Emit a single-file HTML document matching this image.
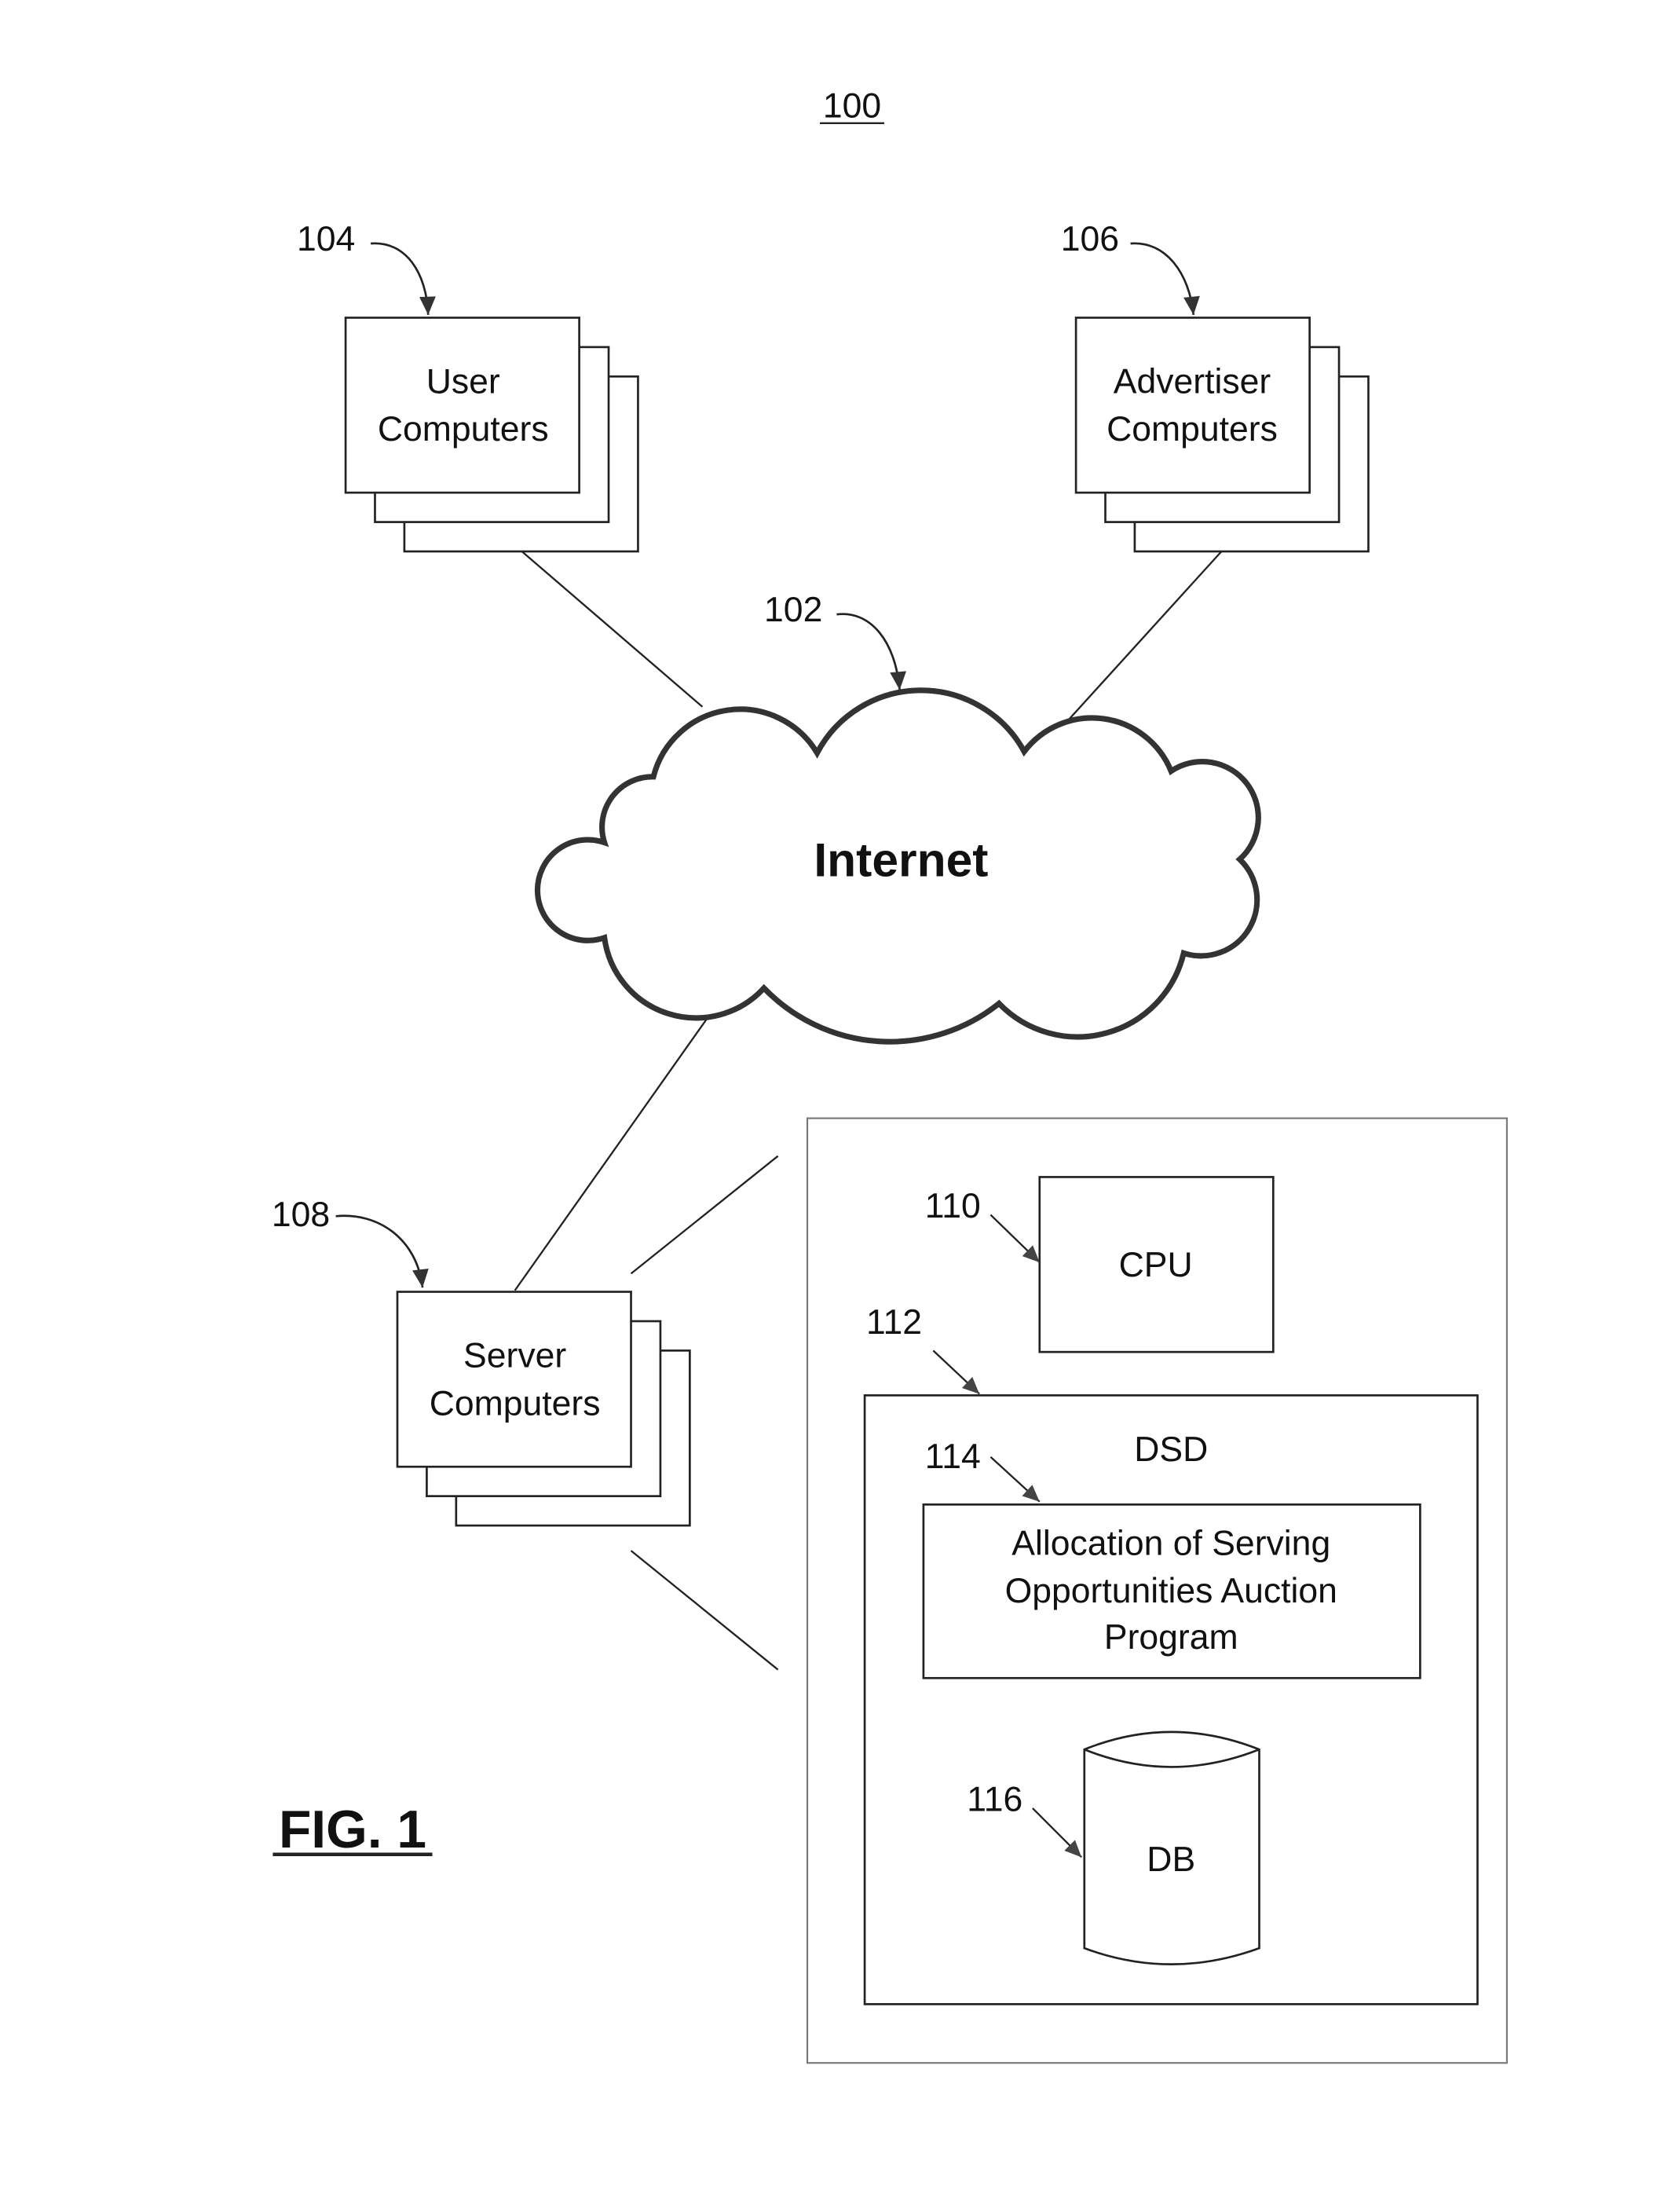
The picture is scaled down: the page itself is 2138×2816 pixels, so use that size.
<!DOCTYPE html>
<html><head><meta charset="utf-8"><style>
html,body{margin:0;padding:0;background:#fff}
svg{display:block}
text{font-family:"Liberation Sans",Arial,sans-serif;fill:#111}
</style></head><body>
<svg width="2138" height="2816" viewBox="0 0 1200 1580.5" preserveAspectRatio="none" xmlns="http://www.w3.org/2000/svg">
<defs>
<marker id="ah" viewBox="0 0 10 10" refX="10" refY="5" markerWidth="15" markerHeight="13" markerUnits="userSpaceOnUse" orient="auto"><path d="M0,0.5 L10,5 L0,9.5 z" fill="#333"/></marker>
<marker id="ahs" viewBox="0 0 10 10" refX="10" refY="5" markerWidth="14" markerHeight="12" markerUnits="userSpaceOnUse" orient="auto"><path d="M0,0.5 L10,5 L0,9.5 z" fill="#444"/></marker>
</defs>
<g fill="#fff" stroke="#222" stroke-width="1.5">
<text x="609" y="84" font-size="25" text-anchor="middle" stroke="none">100</text>
<line x1="586" y1="88" x2="632" y2="88" stroke-width="1.3"/>

<rect x="289" y="269" width="167" height="125"/>
<rect x="268" y="248" width="167" height="125"/>
<rect x="247" y="227" width="167" height="125"/>
<text x="331" y="281" font-size="25" text-anchor="middle" stroke="none">User</text>
<text x="331" y="315" font-size="25" text-anchor="middle" stroke="none">Computers</text>
<text x="233" y="179" font-size="25" text-anchor="middle" stroke="none">104</text>
<path d="M265,174 C290,172 305,195 306,225" fill="none" marker-end="url(#ah)"/>

<rect x="811" y="269" width="167" height="125"/>
<rect x="790" y="248" width="167" height="125"/>
<rect x="769" y="227" width="167" height="125"/>
<text x="852" y="281" font-size="25" text-anchor="middle" stroke="none">Advertiser</text>
<text x="852" y="315" font-size="25" text-anchor="middle" stroke="none">Computers</text>
<text x="779" y="179" font-size="25" text-anchor="middle" stroke="none">106</text>
<path d="M808,174 C833,172 850,195 853,225" fill="none" marker-end="url(#ah)"/>

<line x1="373" y1="394" x2="502" y2="505" stroke-width="1.3"/>
<line x1="873" y1="394" x2="764" y2="514" stroke-width="1.3"/>
<line x1="508" y1="724" x2="368" y2="922" stroke-width="1.3"/>

<path d="M467,555 A64,64 0 0 1 584,538 A84,84 0 0 1 732,537 A61,61 0 0 1 837,551 A40,40 0 0 1 886,614 A40,40 0 0 1 846,681 A78,78 0 0 1 714,717 A125,125 0 0 1 546,706 A66,66 0 0 1 432,670 A36,36 0 1 1 432,602 A36,36 0 0 1 467,555 Z" fill="#fff" stroke="#333" stroke-width="4"/>
<text x="644" y="626" font-size="34" font-weight="bold" text-anchor="middle" stroke="none">Internet</text>
<text x="567" y="444" font-size="25" text-anchor="middle" stroke="none">102</text>
<path d="M598,439 C622,436 640,458 643,493" fill="none" marker-end="url(#ah)"/>

<rect x="326" y="965" width="167" height="125"/>
<rect x="305" y="944" width="167" height="125"/>
<rect x="284" y="923" width="167" height="125"/>
<text x="368" y="977" font-size="25" text-anchor="middle" stroke="none">Server</text>
<text x="368" y="1011" font-size="25" text-anchor="middle" stroke="none">Computers</text>
<text x="215" y="876" font-size="25" text-anchor="middle" stroke="none">108</text>
<path d="M240,869 C270,866 298,885 302,920" fill="none" marker-end="url(#ah)"/>

<line x1="451" y1="910" x2="556" y2="826" stroke-width="1.3"/>
<line x1="451" y1="1108" x2="556" y2="1193" stroke-width="1.3"/>

<rect x="577" y="799" width="500" height="675" stroke="#777" stroke-width="1.2"/>

<rect x="743" y="841" width="167" height="125"/>
<text x="826" y="912" font-size="25" text-anchor="middle" stroke="none">CPU</text>
<text x="681" y="870" font-size="25" text-anchor="middle" stroke="none">110</text>
<line x1="708" y1="868" x2="743" y2="902" stroke-width="1.3" marker-end="url(#ahs)"/>

<rect x="618" y="997" width="438" height="435"/>
<text x="837" y="1044" font-size="25" text-anchor="middle" stroke="none">DSD</text>
<text x="639" y="953" font-size="25" text-anchor="middle" stroke="none">112</text>
<line x1="667" y1="965" x2="700" y2="996" stroke-width="1.3" marker-end="url(#ahs)"/>

<rect x="660" y="1075" width="355" height="124"/>
<text x="837" y="1111" font-size="25" text-anchor="middle" stroke="none">Allocation of Serving</text>
<text x="837" y="1145" font-size="25" text-anchor="middle" stroke="none">Opportunities Auction</text>
<text x="837" y="1178" font-size="25" text-anchor="middle" stroke="none">Program</text>
<text x="681" y="1049" font-size="25" text-anchor="middle" stroke="none">114</text>
<line x1="708" y1="1041" x2="743" y2="1073" stroke-width="1.3" marker-end="url(#ahs)"/>

<path d="M775,1250 Q837,1225 900,1250 L900,1392 Q837,1415 775,1392 Z"/>
<path d="M775,1250 Q837,1275 900,1250" fill="none"/>
<text x="837" y="1337" font-size="25" text-anchor="middle" stroke="none">DB</text>
<text x="711" y="1294" font-size="25" text-anchor="middle" stroke="none">116</text>
<line x1="738" y1="1292" x2="773" y2="1327" stroke-width="1.3" marker-end="url(#ahs)"/>

<text x="252" y="1320" font-size="38" font-weight="bold" text-anchor="middle" stroke="none">FIG. 1</text>
<line x1="195" y1="1325" x2="309" y2="1325" stroke-width="2.5"/>
</g>
</svg>
</body></html>
